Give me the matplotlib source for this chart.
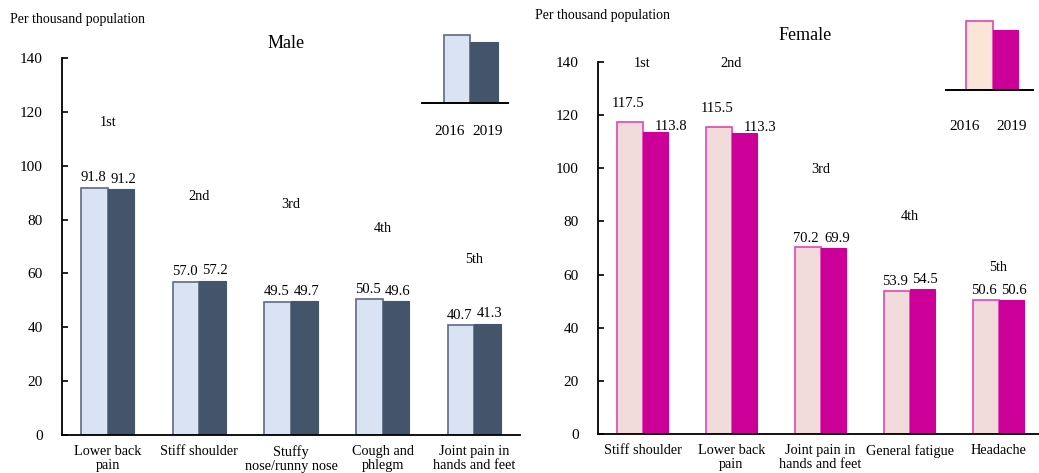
import matplotlib
matplotlib.use("Agg")
import matplotlib.pyplot as plt
import numpy as np

plt.rcParams["font.family"] = ["Liberation Serif", "DejaVu Serif"]

# ---- data ----
male_categories = ["Lower back\npain", "Stiff shoulder", "Stuffy\nnose/runny nose",
                   "Cough and\nphlegm", "Joint pain in\nhands and feet"]
male_2016 = [91.8, 57.0, 49.5, 50.5, 40.7]
male_2019 = [91.2, 57.2, 49.7, 49.6, 41.3]

female_categories = ["Stiff shoulder", "Lower back\npain", "Joint pain in\nhands and feet",
                     "General fatigue", "Headache"]
female_2016 = [117.5, 115.5, 70.2, 53.9, 50.6]
female_2019 = [113.8, 113.3, 69.9, 54.5, 50.6]

ranks = ["1st", "2nd", "3rd", "4th", "5th"]
years = ["2016", "2019"]
yticks = [0, 20, 40, 60, 80, 100, 120, 140]

# ---- styles ----
MALE_C16, MALE_E16, MALE_C19 = "#DAE3F3", "#5B6B82", "#44546A"
FEM_C16, FEM_E16, FEM_C19 = "#F2DCDB", "#E444B4", "#CC0099"
FEM_LEG16 = "#FBE5D6"
FS_NUM = 10.5
FS_TICK = 11
FS_CAT = 10.3

W, H = 1039, 473
fig = plt.figure(figsize=(W / 100, H / 100), dpi=100)


def px_axes(x0, y0, x1, y1):
    """Axes from pixel box (left, top, right, bottom)."""
    return fig.add_axes([x0 / W, 1 - y1 / H, (x1 - x0) / W, (y1 - y0) / H])


def panel(ax, cats, v16, v19, c16, e16, c19, rank_y, lab_dy16, lab_dy19, lab_dx19):
    x = np.arange(len(cats))
    bw = 0.29
    ax.bar(x - bw / 2, v16, bw, color=c16, edgecolor=e16, linewidth=1.2, zorder=2)
    ax.bar(x + bw / 2, v19, bw, color=c19, edgecolor=c19, linewidth=0.8, zorder=2)
    ax.set_xlim(-0.5, len(cats) - 0.5)
    ax.set_ylim(0, 140)
    ax.set_yticks(yticks)
    ax.tick_params(axis="y", direction="in", length=4, width=1.2, labelsize=FS_TICK, pad=14)
    ax.set_xticks(x)
    ax.set_xticklabels(cats, fontsize=FS_CAT, linespacing=1.15)
    ax.tick_params(axis="x", length=0, pad=7)
    for s in ("top", "right"):
        ax.spines[s].set_visible(False)
    ax.spines["left"].set_linewidth(1.3)
    ax.spines["bottom"].set_linewidth(1.3)
    for i in range(len(cats)):
        ax.annotate(f"{v16[i]:.1f}", (x[i] - bw / 2, v16[i]), xytext=(-1, lab_dy16[i]),
                    textcoords="offset points", ha="center", va="bottom", fontsize=FS_NUM)
        ax.annotate(f"{v19[i]:.1f}", (x[i] + bw / 2, v19[i]), xytext=(lab_dx19[i], lab_dy19[i]),
                    textcoords="offset points", ha="center", va="bottom", fontsize=FS_NUM)
        ax.text(x[i], rank_y[i], ranks[i], ha="center", va="center", fontsize=FS_CAT)


def legend_inset(x0, x1, base_y, c16, e16, c19, bar16, bar19, h16, h19, lab_y, lab_x):
    lax = px_axes(x0, base_y - 80, x1, base_y)
    lax.set_xlim(0, 1)
    lax.set_ylim(0, 80)
    lax.axis("off")
    lax.bar([bar16[0]], [h16], bar16[1] - bar16[0], align="edge",
            color=c16, edgecolor=e16, linewidth=1.2)
    lax.bar([bar19[0]], [h19], bar19[1] - bar19[0], align="edge",
            color=c19, edgecolor=c19, linewidth=0.8)
    lax.axhline(0, color="black", linewidth=1.4, clip_on=False)
    for yr, xx in zip(years, lab_x):
        fig.text(xx / W, 1 - lab_y / H, yr, ha="center", va="center", fontsize=FS_TICK)


# ---- Male ----
axm = px_axes(62, 58, 520, 435)
panel(axm, male_categories, male_2016, male_2019, MALE_C16, MALE_E16, MALE_C19,
      rank_y=[116, 88.5, 85.5, 76.5, 65],
      lab_dy16=[2.5] * 5, lab_dy19=[2.5] * 5, lab_dx19=[1.5] * 5)
fig.text(286 / W, 1 - 43 / H, "Male", ha="center", va="center", fontsize=13)
fig.text(10 / W, 1 - 20 / H, "Per thousand population", ha="left", va="center", fontsize=10)
lx0, lx1 = 422, 508
legend_inset(lx0, lx1, 103, MALE_C16, MALE_E16, MALE_C19,
             ((444 - lx0) / (lx1 - lx0), (470 - lx0) / (lx1 - lx0)),
             ((470 - lx0) / (lx1 - lx0), (498 - lx0) / (lx1 - lx0)),
             68, 61, 131, (450, 488))

# ---- Female ----
axf = px_axes(598, 62, 1043, 434)
panel(axf, female_categories, female_2016, female_2019, FEM_C16, FEM_E16, FEM_C19,
      rank_y=[139.5, 139.3, 99.5, 82, 62.5],
      lab_dy16=[8.5, 8.5, 2, 2, 2], lab_dy19=[-1, -1, 2, 2, 2],
      lab_dx19=[11, 11, 2.5, 1.5, 1.5])
fig.text(805 / W, 1 - 36 / H, "Female", ha="center", va="center", fontsize=13)
fig.text(535 / W, 1 - 16 / H, "Per thousand population", ha="left", va="center", fontsize=10)
fx0, fx1 = 946, 1033
legend_inset(fx0, fx1, 90, FEM_LEG16, FEM_E16, FEM_C19,
             ((966 - fx0) / (fx1 - fx0), (993 - fx0) / (fx1 - fx0)),
             ((993 - fx0) / (fx1 - fx0), (1018 - fx0) / (fx1 - fx0)),
             69, 60, 126, (965, 1012))

fig.savefig("out.png", dpi=100)
